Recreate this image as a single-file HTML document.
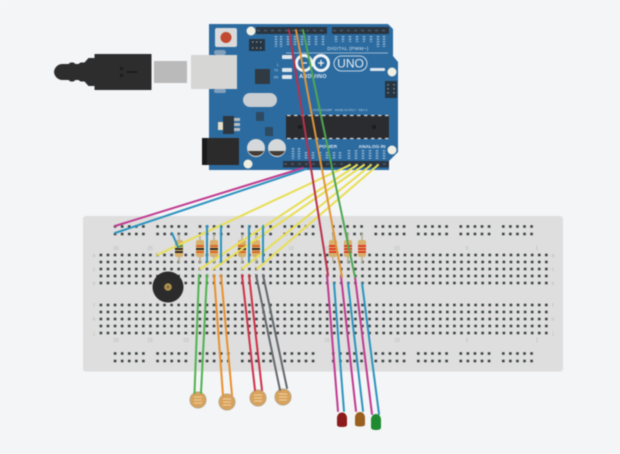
<!DOCTYPE html>
<html><head><meta charset="utf-8"><style>
html,body{margin:0;padding:0;background:#f4f5f7;width:620px;height:454px;overflow:hidden}
svg{display:block;filter:blur(.5px)}
text{font-family:"Liberation Sans",sans-serif}
</style></head><body>
<svg width="620" height="454" viewBox="0 0 620 454" xmlns="http://www.w3.org/2000/svg">
<rect width="620" height="454" fill="#f4f5f7"/>

<!-- USB cable -->
<g>
<rect x="154" y="61" width="33" height="22" fill="#b9bab9"/>
<path d="M54 72.500 a8.500 8.500 0 0 1 8.500-8.500 h6 l2-1.500 h3 l2 1.500 h3 l2-1.500 h4 l4-4.500 h6 v-4 h57 v36 h-57 v-4 h-6 l-4-4.500 h-4 l-2-1.500 h-3 l-2 1.500 h-3 l-2-1.500 h-6 a8.500 8.500 0 0 1-8.500-8.500z" fill="#2d2d2d"/>
<rect x="120" y="67" width="3" height="3" fill="#1c1c1c"/><rect x="120" y="74" width="3" height="3" fill="#1c1c1c"/><rect x="127" y="71" width="10" height="2" fill="#1c1c1c"/>
</g>

<!-- Arduino -->
<path d="M209 24 H388 L393 29 V56 L398 62 V152 L389 161 V170 H209Z" fill="#2c6ba0"/>
<rect x="191" y="55" width="46" height="34" fill="#d6d6d5"/>
<rect x="214" y="50" width="12" height="5" rx="2.500" fill="#d6d6d5" opacity=".5"/>
<rect x="214" y="89" width="12" height="4" rx="2" fill="#d6d6d5" opacity=".5"/>
<circle cx="251" cy="31" r="4.500" fill="#f1efe2"/>
<circle cx="392" cy="72" r="4.500" fill="#f1efe2"/>
<circle cx="392" cy="150" r="4.500" fill="#f1efe2"/>
<circle cx="248" cy="164" r="4.500" fill="#f1efe2"/>
<rect x="215" y="28" width="22" height="19" rx="2" fill="#d8dadb"/>
<circle cx="226" cy="37.500" r="5.500" fill="#c2492f"/>
<rect x="249" y="39" width="16" height="12" fill="#263544"/>
<path d="M252 42h10M252 48h10" stroke="#9a9a8c" stroke-width="1.200" stroke-dasharray="1.500 2.500"/>
<rect x="385" y="81" width="12" height="17" fill="#263544"/>
<path d="M388 84v12M394 84v12" stroke="#9a9a8c" stroke-width="1.200" stroke-dasharray="1.500 2.500"/>
<rect x="256" y="27" width="71" height="7" fill="#2a3540"/>
<rect x="332" y="27" width="57" height="7" fill="#2a3540"/>
<path d="M257 30.500H327M333 30.500H388" stroke="#47515b" stroke-width="2" stroke-dasharray="3 4"/>
<rect x="283" y="161" width="64" height="6.500" fill="#2a3540"/>
<rect x="347" y="161" width="42" height="6.500" fill="#2a3540"/>
<path d="M284 164H346M348 164H388" stroke="#47515b" stroke-width="2" stroke-dasharray="3 4"/>
<rect x="255" y="69" width="15" height="15" fill="#2f3a42"/>
<rect x="243" y="93" width="34" height="14" rx="7" fill="#c9ced2"/>
<rect x="218" y="122" width="5" height="8" fill="#e4dfc9"/>
<rect x="223" y="116" width="11" height="18" fill="#2d3740"/>
<rect x="234" y="118" width="6" height="3" fill="#b7bcc0"/><rect x="234" y="123" width="6" height="3" fill="#b7bcc0"/><rect x="234" y="128" width="6" height="3" fill="#b7bcc0"/>
<rect x="256" y="112" width="8" height="9" fill="#2d4a60"/>
<rect x="265" y="127" width="8" height="9" fill="#2d4a60"/>
<rect x="202" y="138" width="37" height="27" fill="#2b2b2b"/>
<rect x="202" y="138" width="5" height="27" fill="#1a1a1a"/>
<circle cx="256" cy="148" r="9" fill="#d6d9db"/>
<path d="M248 151a9 9 0 0 0 16 0z" fill="#443d36"/>
<circle cx="277" cy="148" r="9" fill="#d6d9db"/>
<path d="M269 151a9 9 0 0 0 16 0z" fill="#443d36"/>
<rect x="286" y="115" width="103" height="24" fill="#2b2c30"/>
<path d="M287 115.500H389M287 138.500H389" stroke="#d5d8da" stroke-width="1.300" stroke-dasharray="3.500 3.500"/>
<circle cx="300" cy="127" r="2" fill="#1c1c1c"/><circle cx="374" cy="127" r="2" fill="#1c1c1c"/>
<!-- logo -->
<g fill="none" stroke="#f2f4f5">
<circle cx="304" cy="63" r="7.500" stroke-width="3"/>
<circle cx="321" cy="63" r="7.500" stroke-width="3"/>
<rect x="334" y="56" width="33" height="15" rx="7.500" stroke-width=".8"/>
</g>
<path d="M301 63h6M318 63h6M321 60v6" stroke="#f2f4f5" stroke-width="1.300"/>
<text x="350.500" y="67.500" font-size="12" fill="#e6edf2" text-anchor="middle">UNO</text>
<text x="313" y="78" font-size="5.500" font-weight="bold" fill="#dde8f0" text-anchor="middle" letter-spacing=".3">ARDUINO</text>
<text x="348" y="50" font-size="4.800" fill="#dde8f0" text-anchor="middle" letter-spacing=".3">DIGITAL (PWM~)</text>
<text x="328" y="148" font-size="4.800" font-weight="bold" fill="#dde8f0" text-anchor="middle">POWER</text>
<text x="372" y="148" font-size="4.800" font-weight="bold" fill="#dde8f0" text-anchor="middle">ANALOG IN</text>
<text x="340" y="111" font-size="3" fill="#b8cfe0" text-anchor="middle">ATMEGA328P · MADE IN ITALY · REV 3</text>
<g fill="#dfe6eb"><rect x="282" y="55" width="10" height="4" rx="1"/><rect x="282" y="68" width="10" height="4" rx="1"/><rect x="282" y="75" width="10" height="4" rx="1"/><rect x="370" y="68" width="15" height="3" rx="1"/></g>
<g fill="#cfdbe4" font-size="3.200"><text x="277" y="66" font-size="3.500">L</text><text x="274" y="71.500">TX</text><text x="274" y="78.500">RX</text></g>
<path d="M276 36V47M281 36V47M288 36V45M295 36V45M302 36V45M309 36V45M316 36V45M323 36V45M336 36V42M343 36V42M350 36V42M357 36V42M364 36V42M371 36V42M378 36V47M384 36V47" stroke="#a9c4d8" stroke-width="2.500" stroke-dasharray="1.500 1" opacity=".75"/>
<path d="M293 148V159M299 148V159M306 152V159M313 152V159M320 152V159M327 152V159M334 152V159M340 152V159M349 150V159M356 150V159M363 150V159M370 150V159M377 150V159M384 150V159" stroke="#a9c4d8" stroke-width="2.500" stroke-dasharray="1.500 1" opacity=".75"/>
<path d="M286 53H388" stroke="#dfe7ed" stroke-width=".7" opacity=".8"/>

<!-- Breadboard -->
<rect x="83" y="216" width="480" height="155.500" rx="3" fill="#dddedd"/>
<g stroke="#3a3e40" stroke-width="2.600" stroke-dasharray="2.600 4.470" fill="none">
<path d="M99.600 255H548M99.600 262H548M99.600 269H548M99.600 276H548M99.600 283H548M99.600 305H548M99.600 312H548M99.600 319H548M99.600 326H548M99.600 333H548"/>
<path d="M113.800 226.500h33M156.300 226.500h33M198.700 226.500h33M241 226.500h33M283.500 226.500h33M332 226.500h33M374.500 226.500h33M417 226.500h33M459.500 226.500h33M502 226.500h33"/>
<path d="M113.800 234h33M156.300 234h33M198.700 234h33M241 234h33M283.500 234h33M332 234h33M374.500 234h33M417 234h33M459.500 234h33M502 234h33"/>
<path d="M113.800 353.500h33M156.300 353.500h33M198.700 353.500h33M241 353.500h33M283.500 353.500h33M332 353.500h33M374.500 353.500h33M417 353.500h33M459.500 353.500h33M502 353.500h33"/>
<path d="M113.800 361h33M156.300 361h33M198.700 361h33M241 361h33M283.500 361h33M332 361h33M374.500 361h33M417 361h33M459.500 361h33M502 361h33"/>
</g>
<g font-size="5" fill="#b9bab9" text-anchor="middle">
<text x="116" y="250">30</text><text x="150" y="250">25</text><text x="291" y="250">10</text><text x="327" y="250">15</text><text x="397" y="250">10</text><text x="467" y="250">5</text><text x="537" y="250">1</text>
<text x="116" y="342">30</text><text x="150" y="342">25</text><text x="186" y="342">20</text><text x="327" y="342">15</text><text x="397" y="342">10</text><text x="467" y="342">5</text><text x="537" y="342">1</text>
<text x="94" y="257">a</text><text x="94" y="271">c</text><text x="94" y="285">e</text><text x="94" y="307">f</text><text x="94" y="321">h</text><text x="94" y="335">j</text>
<text x="553" y="257">a</text><text x="553" y="271">c</text><text x="553" y="285">e</text><text x="553" y="307">f</text><text x="553" y="321">h</text><text x="553" y="335">j</text>
</g>

<!-- Buzzer -->
<circle cx="168" cy="287" r="15.500" fill="#2b2b2b"/>
<circle cx="168" cy="287" r="3.800" fill="#b3944e"/>
<circle cx="168" cy="287" r="1.500" fill="#7d6a3c"/>

<!-- Resistors -->
<g stroke="#b7b29f" stroke-width="1.600">
<path d="M179 234V263M200 234V263M214 234V263M242 234V263M256 234V263M333 233V263M348 233V263M362 233V263"/>
</g>
<g fill="#d8b06c">
<rect x="175" y="240" width="8" height="17" rx="2"/>
<rect x="196" y="240" width="8" height="17" rx="2"/><rect x="210" y="240" width="8" height="17" rx="2"/>
<rect x="238" y="240" width="8" height="17" rx="2"/><rect x="252" y="240" width="8" height="17" rx="2"/>
<rect x="329" y="240" width="8" height="17" rx="2"/><rect x="344" y="240" width="8" height="17" rx="2"/><rect x="358" y="240" width="8" height="17" rx="2"/>
</g>
<g stroke-width="1.700" fill="none">
<path d="M175 246h8" stroke="#3f8f3f"/><path d="M175 249h8M175 252h8" stroke="#1d1d1d"/>
<path d="M196 246h8M210 246h8M238 246h8M252 246h8" stroke="#d8611f"/>
<path d="M196 249h8M210 249h8M238 249h8M252 249h8" stroke="#1d1d1d"/>
<path d="M196 252h8M210 252h8M238 252h8M252 252h8" stroke="#d8611f"/>
<path d="M329 246h8M329 249h8M329 252h8M344 246h8M344 249h8M344 252h8M358 246h8M358 249h8M358 252h8" stroke="#e0301f"/>
</g>

<!-- LDRs -->
<g fill="#d9a25c" stroke="#b8a583" stroke-width="1">
<circle cx="198" cy="400" r="8"/>
<circle cx="227" cy="402" r="8"/>
<circle cx="258" cy="398" r="8"/>
<circle cx="283" cy="397" r="8"/>
</g>
<g stroke="#eed3a4" stroke-width=".9" fill="none">
<path d="M194 397h8M194 400h8M194 403h8M223 399h8M223 402h8M223 405h8M254 395h8M254 398h8M254 401h8M279 394h8M279 397h8M279 400h8"/>
</g>

<!-- LEDs -->
<path d="M337 418a5 5.500 0 0 1 10 0v7q0 2-5 2t-5-2z" fill="#8c1b1b"/>
<path d="M355 417.500a5 5.500 0 0 1 10 0v7q0 2-5 2t-5-2z" fill="#996020"/>
<path d="M371 419.500a5 5.500 0 0 1 10 0v8q0 2.500-5 2.500t-5-2.500z" fill="#1f8a30"/>

<!-- Wires -->
<g fill="none" stroke-width="2" stroke-linecap="round">
<path d="M115 226L303 168" stroke="#c03a90"/>
<path d="M115 233L306 169" stroke="#2c93bf"/>
<g stroke="#e8de55">
<path d="M157 255L350 165"/>
<path d="M200 269L357 165"/>
<path d="M213 269L364 165"/>
<path d="M242 269L371 165"/>
<path d="M257 269L378 165"/>
</g>
<g stroke="#2c93bf">
<path d="M172 233L178 247"/>
<path d="M207 226V262M221 226V262M249 226V262M263 226V262"/>
</g>
<g stroke="#4fb24f">
<path d="M199 275L194.500 393M207 275L201 393"/>
</g>
<g stroke="#e8902e">
<path d="M214 275L223 395M221 275L232 395"/>
</g>
<g stroke="#cf3048">
<path d="M242 275L255 390M249 275L262 390"/>
</g>
<g stroke="#62686c">
<path d="M256 275L280 390M263 275L287 388"/>
</g>
<g stroke="#c03a90">
<path d="M327 275L338 411M341 276L356 411M355 277L372 414"/>
</g>
<g stroke="#2c93bf">
<path d="M334 283L344 411M348 283L363 411M362 283L379 414"/>
</g>
<path d="M289 30L328 275" stroke="#b8324a"/>
<path d="M296 30L342 277" stroke="#e0963a"/>
<path d="M303 30L355 277" stroke="#4fa653"/>
</g>
</svg>
</body></html>
